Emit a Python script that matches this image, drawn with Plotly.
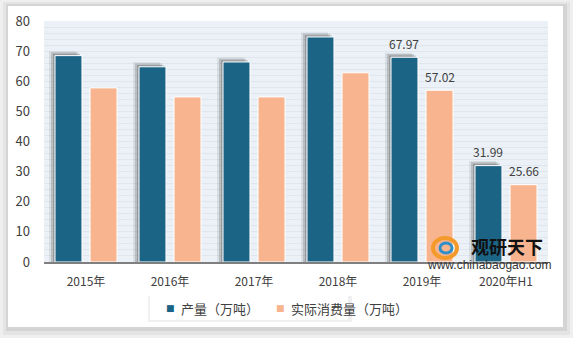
import plotly.graph_objects as go

categories = ["2015年", "2016年", "2017年", "2018年", "2019年", "2020年H1"]
production = [68.5, 64.8, 66.4, 74.7, 67.97, 31.99]
consumption = [57.8, 54.8, 54.8, 62.8, 57.02, 25.66]
labeled = [False, False, False, False, True, True]
series_names = ["产量（万吨）", "实际消费量（万吨）"]
y_ticks = [0, 10, 20, 30, 40, 50, 60, 70, 80]

W, H = 573, 338
L, R, T, B = 44, 548, 21, 262
FONT = "Noto Sans CJK SC"
C_PROD = "#1B6486"
C_CONS = "#F8B48F"
TXT = "#404040"

def px(x):
    return (x - L) / (R - L)

def py(y):
    return (B - y) / (B - T)

BW = 0.321
OFF_P = -0.369
OFF_C = 0.048

fig = go.Figure()
# soft shadows behind production bars
for dx, dy, col in [(6, 1.5, "rgba(0,0,0,0.08)"), (4, 1.1, "rgba(0,0,0,0.14)"), (2, 0.6, "rgba(0,0,0,0.18)")]:
    fig.add_trace(go.Bar(x=categories, y=[v + dy for v in production], width=BW,
                         offset=OFF_P - dx / 84, marker=dict(color=col, line=dict(width=0)),
                         showlegend=False, hoverinfo="skip"))
fig.add_trace(go.Bar(x=categories, y=production, width=BW, offset=OFF_P, name=series_names[0],
                     marker=dict(color=C_PROD, line=dict(color="white", width=1)), showlegend=False))
fig.add_trace(go.Bar(x=categories, y=consumption, width=BW, offset=OFF_C, name=series_names[1],
                     marker=dict(color=C_CONS, line=dict(color="white", width=1)), showlegend=False))

annotations = []
for i, cat in enumerate(categories):
    if labeled[i]:
        for v, off in [(production[i], OFF_P), (consumption[i], OFF_C)]:
            annotations.append(dict(x=i + off + BW / 2, y=v, xref="x", yref="y", text=f"{v:.2f}",
                                    showarrow=False, xanchor="center", yanchor="middle", yshift=14,
                                    font=dict(family=FONT, size=12, color=TXT)))
# legend (manual, as text)
for (mx, tx), nm, col in zip([(170, 179), (280, 289)], series_names, [C_PROD, C_CONS]):
    annotations.append(dict(x=px(mx), y=py(308), xref="paper", yref="paper", text="■",
                            showarrow=False, xanchor="center", yanchor="middle",
                            font=dict(family="DejaVu Sans", size=9, color=col)))
    annotations.append(dict(x=px(tx), y=py(308), xref="paper", yref="paper", text=nm,
                            showarrow=False, xanchor="left", yanchor="middle",
                            font=dict(family=FONT, size=13, color=TXT)))
# watermark
annotations.append(dict(x=px(507), y=py(246), xref="paper", yref="paper", text="<b>观研天下</b>",
                        showarrow=False, xanchor="center", yanchor="middle",
                        font=dict(family=FONT, size=18, color="#111111")))
annotations.append(dict(x=px(489), y=py(265), xref="paper", yref="paper", text="www.chinabaogao.com",
                        showarrow=False, xanchor="center", yanchor="middle",
                        font=dict(family="Liberation Sans", size=12, color="#333333")))

shapes = [
    dict(type="rect", xref="paper", yref="paper", x0=px(3), x1=px(570), y0=py(2), y1=py(335),
         fillcolor="#e4e4e4", line=dict(width=0), layer="below"),
    dict(type="rect", xref="paper", yref="paper", x0=px(6), x1=px(567), y0=py(4), y1=py(331),
         fillcolor="#d4d4d4", line=dict(width=0), layer="below"),
    dict(type="rect", xref="paper", yref="paper", x0=px(8), x1=px(563), y0=py(6), y1=py(327),
         fillcolor="white", line=dict(width=0), layer="below"),
    dict(type="rect", xref="paper", yref="paper", x0=px(148), x1=px(352), y0=py(296), y1=py(322),
         fillcolor="#f0f0f0", line=dict(width=0), layer="below"),
    dict(type="rect", xref="paper", yref="paper", x0=px(150), x1=px(348), y0=py(296), y1=py(320),
         fillcolor="white", line=dict(width=0), layer="below"),
    dict(type="rect", xref="paper", yref="paper", x0=0, x1=1, y0=0, y1=1,
         fillcolor="#EBF1F6", line=dict(width=0), layer="below"),
    # logo swirl
    dict(type="circle", xref="paper", yref="paper", x0=px(433), x1=px(457), y0=py(238), y1=py(258),
         fillcolor="rgba(0,0,0,0)", line=dict(color="#F39A2B", width=4)),
    dict(type="circle", xref="paper", yref="paper", x0=px(440), x1=px(452), y0=py(243), y1=py(253),
         fillcolor="rgba(0,0,0,0)", line=dict(color="#2E8FC9", width=3)),
]

fig.update_layout(
    width=W, height=H,
    margin=dict(l=L, r=W - R, t=T, b=H - B, pad=0),
    paper_bgcolor="#efefef",
    plot_bgcolor="rgba(0,0,0,0)",
    barmode="overlay",
    font=dict(family=FONT, size=12, color=TXT),
    shapes=shapes,
    annotations=annotations,
    showlegend=False,
    xaxis=dict(showgrid=False, showline=True, linecolor="#7f7f7f", linewidth=1.5,
               ticks="", tickfont=dict(family=FONT, size=12, color=TXT), ticklabelstandoff=8,
               range=[-0.5, 5.5], fixedrange=True),
    yaxis=dict(range=[0, 80], tickvals=y_ticks, showgrid=True, gridcolor="#DFE6EE", gridwidth=1,
               minor=dict(dtick=2, showgrid=True, gridcolor="#DFE6EE", gridwidth=1),
               zeroline=False, showline=False, ticks="", ticklabelstandoff=13,
               tickfont=dict(family=FONT, size=13, color=TXT)),
)

fig.write_html("out.html")
